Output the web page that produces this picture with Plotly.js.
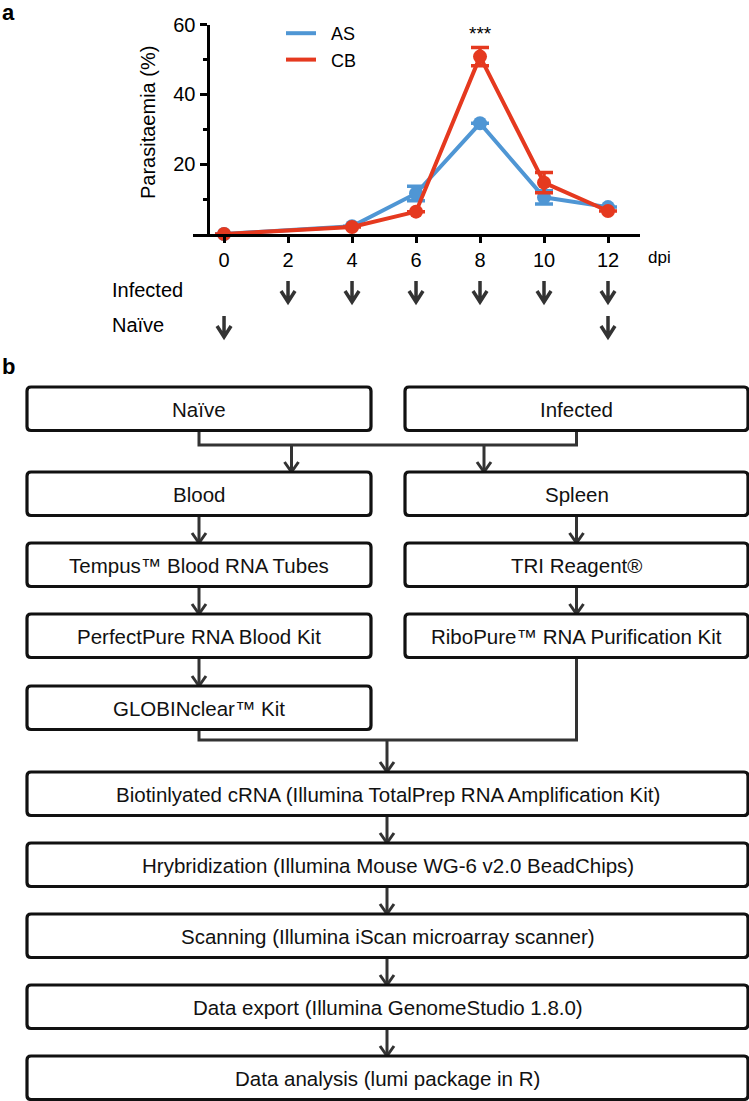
<!DOCTYPE html>
<html>
<head>
<meta charset="utf-8">
<script src="https://cdn.plot.ly/plotly-3.0.1.min.js"></script>
<style>html,body{margin:0;padding:0;background:#fff;}#chart{width:749px;height:1101px;}</style>
</head>
<body>
<div id="chart"></div>
<script>
// ---------- data (panel a) ----------
const dpi = [0, 4, 6, 8, 10, 12];
const asMean = [0, 2.2, 11.6, 31.7, 10.5, 7.7];
const asErr = [0, 0, 2.1, 0, 1.9, 0];
const cbMean = [0, 2.0, 6.4, 50.8, 14.7, 6.6];
const cbErr = [0, 0, 0, 2.6, 2.9, 0];
const seriesNames = ['AS', 'CB'];
const xTickVals = [0, 2, 4, 6, 8, 10, 12];
const xTickText = ['0', '2', '4', '6', '8', '10', '12'];
const yTickVals = [20, 40, 60];
const yMinorVals = [10, 30, 50];
const infectedDays = [2, 4, 6, 8, 10, 12];
const naiveDays = [0, 12];

// ---------- flowchart labels (panel b) ----------
const leftSteps = ['Naïve', 'Blood', 'Tempus™ Blood RNA Tubes', 'PerfectPure RNA Blood Kit', 'GLOBINclear™ Kit'];
const rightSteps = ['Infected', 'Spleen', 'TRI Reagent®', 'RiboPure™ RNA Purification Kit'];
const sharedSteps = ['Biotinlyated cRNA (Illumina TotalPrep RNA Amplification Kit)',
  'Hrybridization (Illumina Mouse WG-6 v2.0 BeadChips)',
  'Scanning (Illumina iScan microarray scanner)',
  'Data export (Illumina GenomeStudio 1.8.0)',
  'Data analysis (lumi package in R)'];

// ---------- styling / geometry ----------
const W = 749, H = 1101;
const px = x => x / W;
const py = y => 1 - y / H;
const FONT = 'Liberation Sans, Arial, Helvetica, sans-serif';
const BLUE = '#4f96d4', RED = '#e5391f', DARK = '#333333', INK = '#111111';
const pad = s => '\u00a0\u00a0' + s;

const traces = [
  {x: dpi, y: asMean, mode: 'lines', name: pad(seriesNames[0]), line: {color: BLUE, width: 4}, cliponaxis: false},
  {x: dpi, y: asMean, mode: 'markers', name: seriesNames[0], showlegend: false, cliponaxis: false,
   marker: {size: 14, color: BLUE},
   error_y: {type: 'data', array: asErr, color: BLUE, thickness: 3.5, width: 9}},
  {x: dpi, y: cbMean, mode: 'lines', name: pad(seriesNames[1]), line: {color: RED, width: 4}, cliponaxis: false},
  {x: dpi, y: cbMean, mode: 'markers', name: seriesNames[1], showlegend: false, cliponaxis: false,
   marker: {size: 14, color: RED},
   error_y: {type: 'data', array: cbErr, color: RED, thickness: 3.5, width: 9}}
];

const shapes = [];
const annotations = [];

// arrows below the dpi axis
function dpiArrow(d, yTop, yBot) {
  const hw = 7 / 32, hh = 11;
  shapes.push({type: 'path', xref: 'x', yref: 'paper',
    path: `M ${d},${py(yTop)} L ${d},${py(yBot)} M ${d - hw},${py(yBot - hh)} L ${d},${py(yBot)} L ${d + hw},${py(yBot - hh)}`,
    line: {color: DARK, width: 3.5}});
}
infectedDays.forEach(d => dpiArrow(d, 281, 302));
naiveDays.forEach(d => dpiArrow(d, 316, 337));

// flowchart helpers
function poly(pts) {
  shapes.push({type: 'path', xref: 'paper', yref: 'paper',
    path: pts.map((p, i) => (i ? 'L ' : 'M ') + px(p[0]) + ',' + py(p[1])).join(' '),
    line: {color: DARK, width: 3}});
}
function arrow(x, y0, y1) {
  poly([[x, y0], [x, y1]]);
  poly([[x - 7, y1 - 10], [x, y1], [x + 7, y1 - 10]]);
}
function box(x0, y0, x1, y1, label) {
  const r = 4;
  const P = (x, y) => px(x) + ',' + py(y);
  const path = `M ${P(x0 + r, y0)} L ${P(x1 - r, y0)} Q ${P(x1, y0)} ${P(x1, y0 + r)} L ${P(x1, y1 - r)} Q ${P(x1, y1)} ${P(x1 - r, y1)} L ${P(x0 + r, y1)} Q ${P(x0, y1)} ${P(x0, y1 - r)} L ${P(x0, y0 + r)} Q ${P(x0, y0)} ${P(x0 + r, y0)} Z`;
  shapes.push({type: 'path', xref: 'paper', yref: 'paper', path: path,
    line: {color: INK, width: 3.2}, fillcolor: '#ffffff'});
  annotations.push({xref: 'paper', yref: 'paper', x: px((x0 + x1) / 2), y: py((y0 + y1) / 2 + 1),
    xanchor: 'center', yanchor: 'middle', showarrow: false, text: label,
    font: {family: FONT, size: 20.5, color: INK}});
}

const LC = [27, 371], RC = [405, 748], FC = [27, 748];
const BH = 43.5;
const lcx = (LC[0] + LC[1]) / 2, rcx = (RC[0] + RC[1]) / 2, fcx = (FC[0] + FC[1]) / 2;
const sideTops = [387, 472, 543, 614, 686];
const fullTops = [772, 843, 914, 985, 1056];

// connectors first (boxes drawn over them)
poly([[lcx, sideTops[0] + BH], [lcx, 445], [rcx, 445], [rcx, sideTops[0] + BH]]);
arrow(291.5, 445, sideTops[1]);
arrow(484, 445, sideTops[1]);
for (let i = 1; i < leftSteps.length - 1; i++) arrow(lcx, sideTops[i] + BH, sideTops[i + 1]);
for (let i = 1; i < rightSteps.length - 1; i++) arrow(rcx, sideTops[i] + BH, sideTops[i + 1]);
poly([[lcx, sideTops[4] + BH], [lcx, 740], [rcx, 740], [rcx, sideTops[3] + BH]]);
arrow(fcx - 0.5, 740, fullTops[0]);
for (let i = 0; i < sharedSteps.length - 1; i++) arrow(fcx - 0.5, fullTops[i] + BH, fullTops[i + 1]);

leftSteps.forEach((t, i) => box(LC[0], sideTops[i], LC[1], sideTops[i] + BH, t));
rightSteps.forEach((t, i) => box(RC[0], sideTops[i], RC[1], sideTops[i] + BH, t));
sharedSteps.forEach((t, i) => box(FC[0], fullTops[i], FC[1], fullTops[i] + BH, t));

// panel labels and other texts
const txt = (x, y, text, size, opts) => annotations.push(Object.assign({
  xref: 'paper', yref: 'paper', x: px(x), y: py(y), text: text, showarrow: false,
  xanchor: 'left', yanchor: 'middle', font: {family: FONT, size: size, color: '#000'}}, opts || {}));
txt(0, 12, '<b>a</b>', 22);
txt(0, 367, '<b>b</b>', 22);
txt(646, 257, 'dpi', 17);
txt(110, 290, 'Infected', 20);
txt(110, 325, 'Naïve', 20);
txt(148, 123, 'Parasitaemia (%)', 20, {xanchor: 'center', textangle: -90});
annotations.push({xref: 'x', yref: 'paper', x: 8, y: py(33), text: '***', showarrow: false,
  xanchor: 'center', yanchor: 'middle', font: {family: FONT, size: 19, color: '#000'}});

const layout = {
  width: W, height: H,
  margin: {l: 0, r: 0, t: 0, b: 0},
  paper_bgcolor: '#ffffff', plot_bgcolor: 'rgba(0,0,0,0)',
  showlegend: true,
  legend: {x: px(281), y: py(15), xanchor: 'left', yanchor: 'top', bgcolor: 'rgba(0,0,0,0)',
    font: {family: FONT, size: 18, color: '#000'}, tracegroupgap: 0},
  xaxis: {domain: [px(193), px(640)], range: [-0.97, 13.0], anchor: 'y',
    showline: true, linewidth: 3, linecolor: '#000', showgrid: false, zeroline: false,
    ticks: 'outside', ticklen: 6, tickwidth: 3, tickcolor: '#000',
    tickmode: 'array', tickvals: xTickVals, ticktext: xTickText,
    tickfont: {family: FONT, size: 20, color: '#000'}, fixedrange: true},
  yaxis: {domain: [py(234), py(24.5)], range: [0, 60], anchor: 'free', position: px(207.5),
    showline: true, linewidth: 3, linecolor: '#000', showgrid: false, zeroline: false,
    ticks: 'outside', ticklen: 7, tickwidth: 3, tickcolor: '#000',
    tickmode: 'array', tickvals: yTickVals,
    minor: {tickmode: 'array', tickvals: yMinorVals, ticks: 'outside', ticklen: 4, tickwidth: 3, tickcolor: '#000', showgrid: false},
    tickfont: {family: FONT, size: 20, color: '#000'},
    fixedrange: true},
  shapes: shapes,
  annotations: annotations
};

Plotly.newPlot('chart', traces, layout, {staticPlot: true, displayModeBar: false});
</script>
</body>
</html>
